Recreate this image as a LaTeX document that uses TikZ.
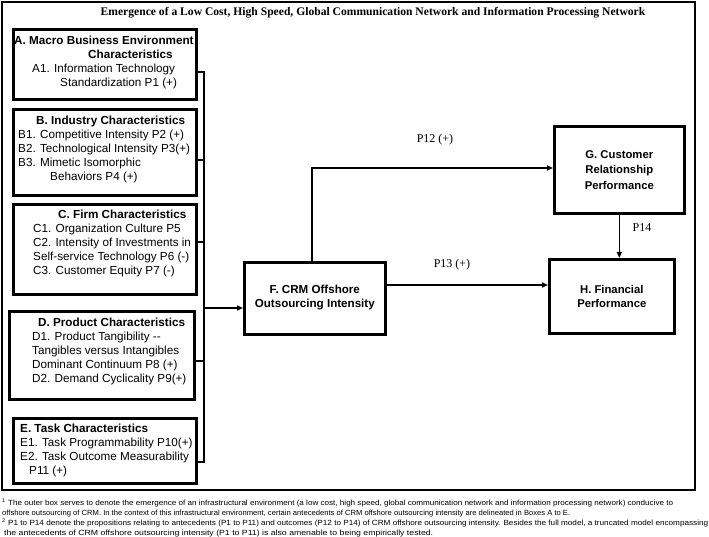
\documentclass[tikz,border=0pt]{standalone}
\usepackage{fontspec}
\setmainfont{Liberation Sans}
\newfontfamily\serif{Liberation Serif}
\usetikzlibrary{arrows.meta}
\begin{document}
\begin{tikzpicture}[x=1pt,y=-1pt,
 box/.style={draw, line width=2.6pt, anchor=north west, inner sep=0pt},
 txt/.style={anchor=north west, inner sep=0pt, align=left, font=\fontsize{11.7}{14}\selectfont},
 btxt/.style={align=center, font=\bfseries\fontsize{11.6}{14}\selectfont},
 conn/.style={line width=2pt},
 arr/.style={line width=1.6pt, -{Triangle[length=6pt,width=5pt]}},
 lbl/.style={font=\serif\fontsize{12}{14}\selectfont, inner sep=0pt},
 fn/.style={anchor=base west, inner sep=0pt, font=\fontsize{7.5}{8}\selectfont}]
\useasboundingbox (0,0) rectangle (709,537);
\draw[line width=1.6pt] (2,2) rectangle (695,490);
\node[font=\serif\bfseries\fontsize{11.6}{13}\selectfont, inner sep=0pt] (title) at (373,13) {Emergence of a Low Cost, High Speed, Global Communication Network and Information Processing Network};

% boxes A-E
\node[box, minimum width=183pt, minimum height=70pt] (A) at (12,28) {};
\node[txt] (At) at (14,35.9) {\textbf{A. Macro Business Environment}\\\hspace*{74pt}\textbf{Characteristics}\\\hspace*{18pt}A1. Information Technology\\\hspace*{46pt}Standardization P1 (+)};
\node[box, minimum width=183pt, minimum height=86pt] (B) at (12,108) {};
\node[txt] (Bt) at (18,115.9) {\hspace*{18pt}\textbf{B. Industry Characteristics}\\B1. Competitive Intensity P2 (+)\\B2. Technological Intensity P3(+)\\B3. Mimetic Isomorphic\\\hspace*{32pt}Behaviors P4 (+)};
\node[box, minimum width=183pt, minimum height=90pt] (C) at (12,203) {};
\node[txt] (Ct) at (33,209.9) {\hspace*{25pt}\textbf{C. Firm Characteristics}\\C1. Organization Culture P5\\C2. Intensity of Investments in\\Self-service Technology P6 (-)\\C3. Customer Equity P7 (-)};
\node[box, minimum width=185pt, minimum height=88pt] (D) at (8,310) {};
\node[txt] (Dt) at (32,317.9) {\hspace*{6pt}\textbf{D. Product Characteristics}\\D1. Product Tangibility {-}{-}\\Tangibles versus Intangibles\\Dominant Continuum P8 (+)\\D2. Demand Cyclicality P9(+)};
\node[box, minimum width=183pt, minimum height=65pt] (E) at (12,417) {};
\node[txt] (Et) at (20,423.9) {\textbf{E. Task Characteristics}\\E1. Task Programmability P10(+)\\E2. Task Outcome Measurability\\\hspace*{9pt}P11 (+)};

% boxes F-H
\node[box, btxt, minimum width=141pt, minimum height=72pt] (F) at (243,261) {\rule{0pt}{10pt}F. CRM Offshore\\Outsourcing Intensity\rule[-5pt]{0pt}{5pt}};
\node[box, btxt, font=\bfseries\fontsize{11.3}{15.5}\selectfont, minimum width=130pt, minimum height=87pt] (G) at (553,125) {G. Customer\\Relationship\\Performance};
\node[box, btxt, font=\bfseries\fontsize{11.3}{14}\selectfont, minimum width=125pt, minimum height=74pt] (H) at (548,258) {H. Financial\\Performance};

% bus
\coordinate (bA) at (204,72);
\coordinate (bB) at (204,160);
\coordinate (bC) at (204,242);
\coordinate (bD) at (204,361);
\coordinate (bE) at (204,462);
\coordinate (bF) at (204,308);
\draw[conn] (A.east |- bA) -- (bA) -- (bE) -- (E.east |- bE);
\draw[conn] (B.east |- bB) -- (bB);
\draw[conn] (C.east |- bC) -- (bC);
\draw[conn] (D.east |- bD) -- (bD);
\draw[arr] (bF) -- (F.west |- bF);

% outcomes
\coordinate (k) at (312,168);
\coordinate (p13) at (0,285);
\draw[arr] (F.north -| k) -- (k) -- (G.west |- k);
\draw[arr] (F.east |- p13) -- (H.west |- p13);
\draw[arr] (G.south) -- (G.south |- H.north);
\node[lbl] (l12) at (435,140) {P12 (+)};
\node[lbl] (l13) at (452,265) {P13 (+)};
\node[lbl] (l14) at (642,228) {P14};

% footnotes
\node[fn] (f1) at (2,505.5) {\resizebox{671pt}{\height}{\textsuperscript{1} The outer box serves to denote the emergence of an infrastructural environment (a low cost, high speed, global communication network and information processing network) conducive to}};
\node[fn] (f1b) at (2,515) {\resizebox{568pt}{\height}{offshore outsourcing of CRM. In the context of this infrastructural environment, certain antecedents of CRM offshore outsourcing intensity are delineated in Boxes A to E.}};
\node[fn] (f2) at (2,525.5) {\resizebox{706pt}{\height}{\textsuperscript{2} P1 to P14 denote the propositions relating to antecedents (P1 to P11) and outcomes (P12 to P14) of CRM offshore outsourcing intensity. Besides the full model, a truncated model encompassing}};
\node[fn] (f2b) at (4,535) {\resizebox{429pt}{\height}{the antecedents of CRM offshore outsourcing intensity (P1 to P11) is also amenable to being empirically tested.}};
\end{tikzpicture}
\end{document}
